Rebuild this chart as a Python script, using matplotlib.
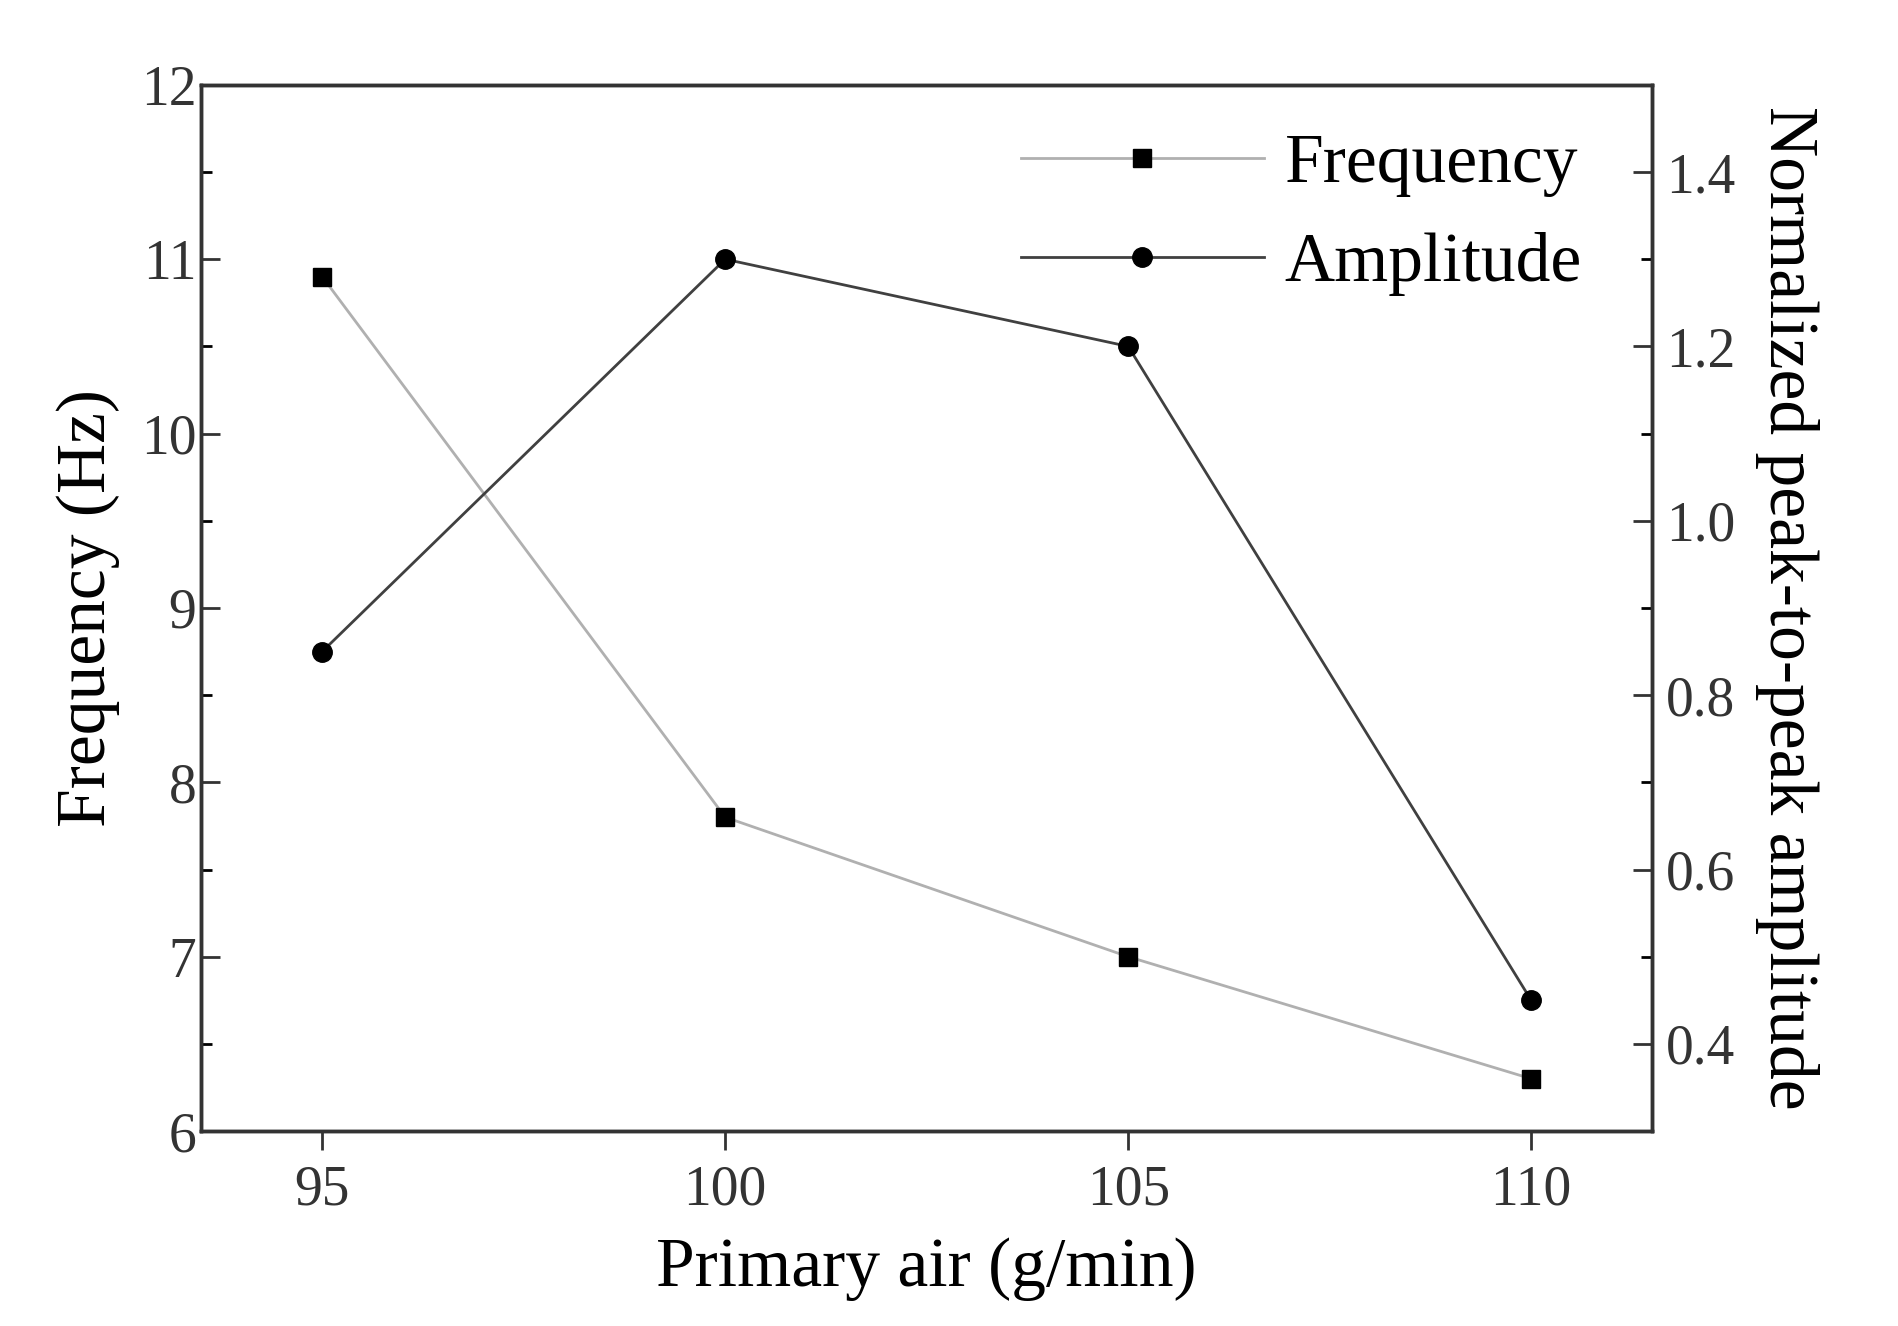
import matplotlib
matplotlib.use("Agg")
import matplotlib.pyplot as plt
from matplotlib.ticker import MultipleLocator

plt.rcParams['font.family'] = ['Liberation Serif', 'DejaVu Serif']

air = [95, 100, 105, 110]
frequency = [10.9, 7.8, 7.0, 6.3]
amplitude = [0.85, 1.30, 1.20, 0.45]

fig = plt.figure(figsize=(18.99, 13.26), dpi=100)
ax = fig.add_axes([0.106, 0.147, 0.764, 0.789])
ax2 = ax.twinx()

l1, = ax.plot(air, frequency, color="#b0b0b0", lw=2, marker="s", ms=13,
              mfc="black", mec="black", label="Frequency")
l2, = ax2.plot(air, amplitude, color="#404040", lw=2, marker="o", ms=14,
               mfc="black", mec="black", label="Amplitude")

ax.set_xlim(93.5, 111.5)
ax.set_ylim(6, 12)
ax2.set_ylim(0.3, 1.5)
ax.set_xticks(air)
ax.yaxis.set_major_locator(MultipleLocator(1))
ax.yaxis.set_minor_locator(MultipleLocator(0.5))
ax2.set_yticks([0.4, 0.6, 0.8, 1.0, 1.2, 1.4])
ax2.yaxis.set_minor_locator(MultipleLocator(0.1))

for a in (ax, ax2):
    a.tick_params(which="major", direction="in", length=14, width=2, labelsize=40, colors="#333333")
    a.tick_params(which="minor", direction="in", length=8, width=2)
    for s in a.spines.values():
        s.set_linewidth(2.5)
        s.set_color("#333333")
ax.tick_params(axis="x", direction="out", pad=10)
ax2.tick_params(axis="y", pad=10)

ax.set_xlabel("Primary air (g/min)", fontsize=50, labelpad=15)
ax.set_ylabel("Frequency (Hz)", fontsize=50, labelpad=15)
ax2.set_ylabel("Normalized peak-to-peak amplitude", fontsize=50, rotation=270, labelpad=60)

ax.legend(handles=[l1, l2], loc="upper right", fontsize=50, frameon=False,
          handlelength=3.5, handletextpad=0.3, borderaxespad=0.3,
          bbox_to_anchor=(0.985, 1.0))

fig.savefig("out.png", dpi=100)
